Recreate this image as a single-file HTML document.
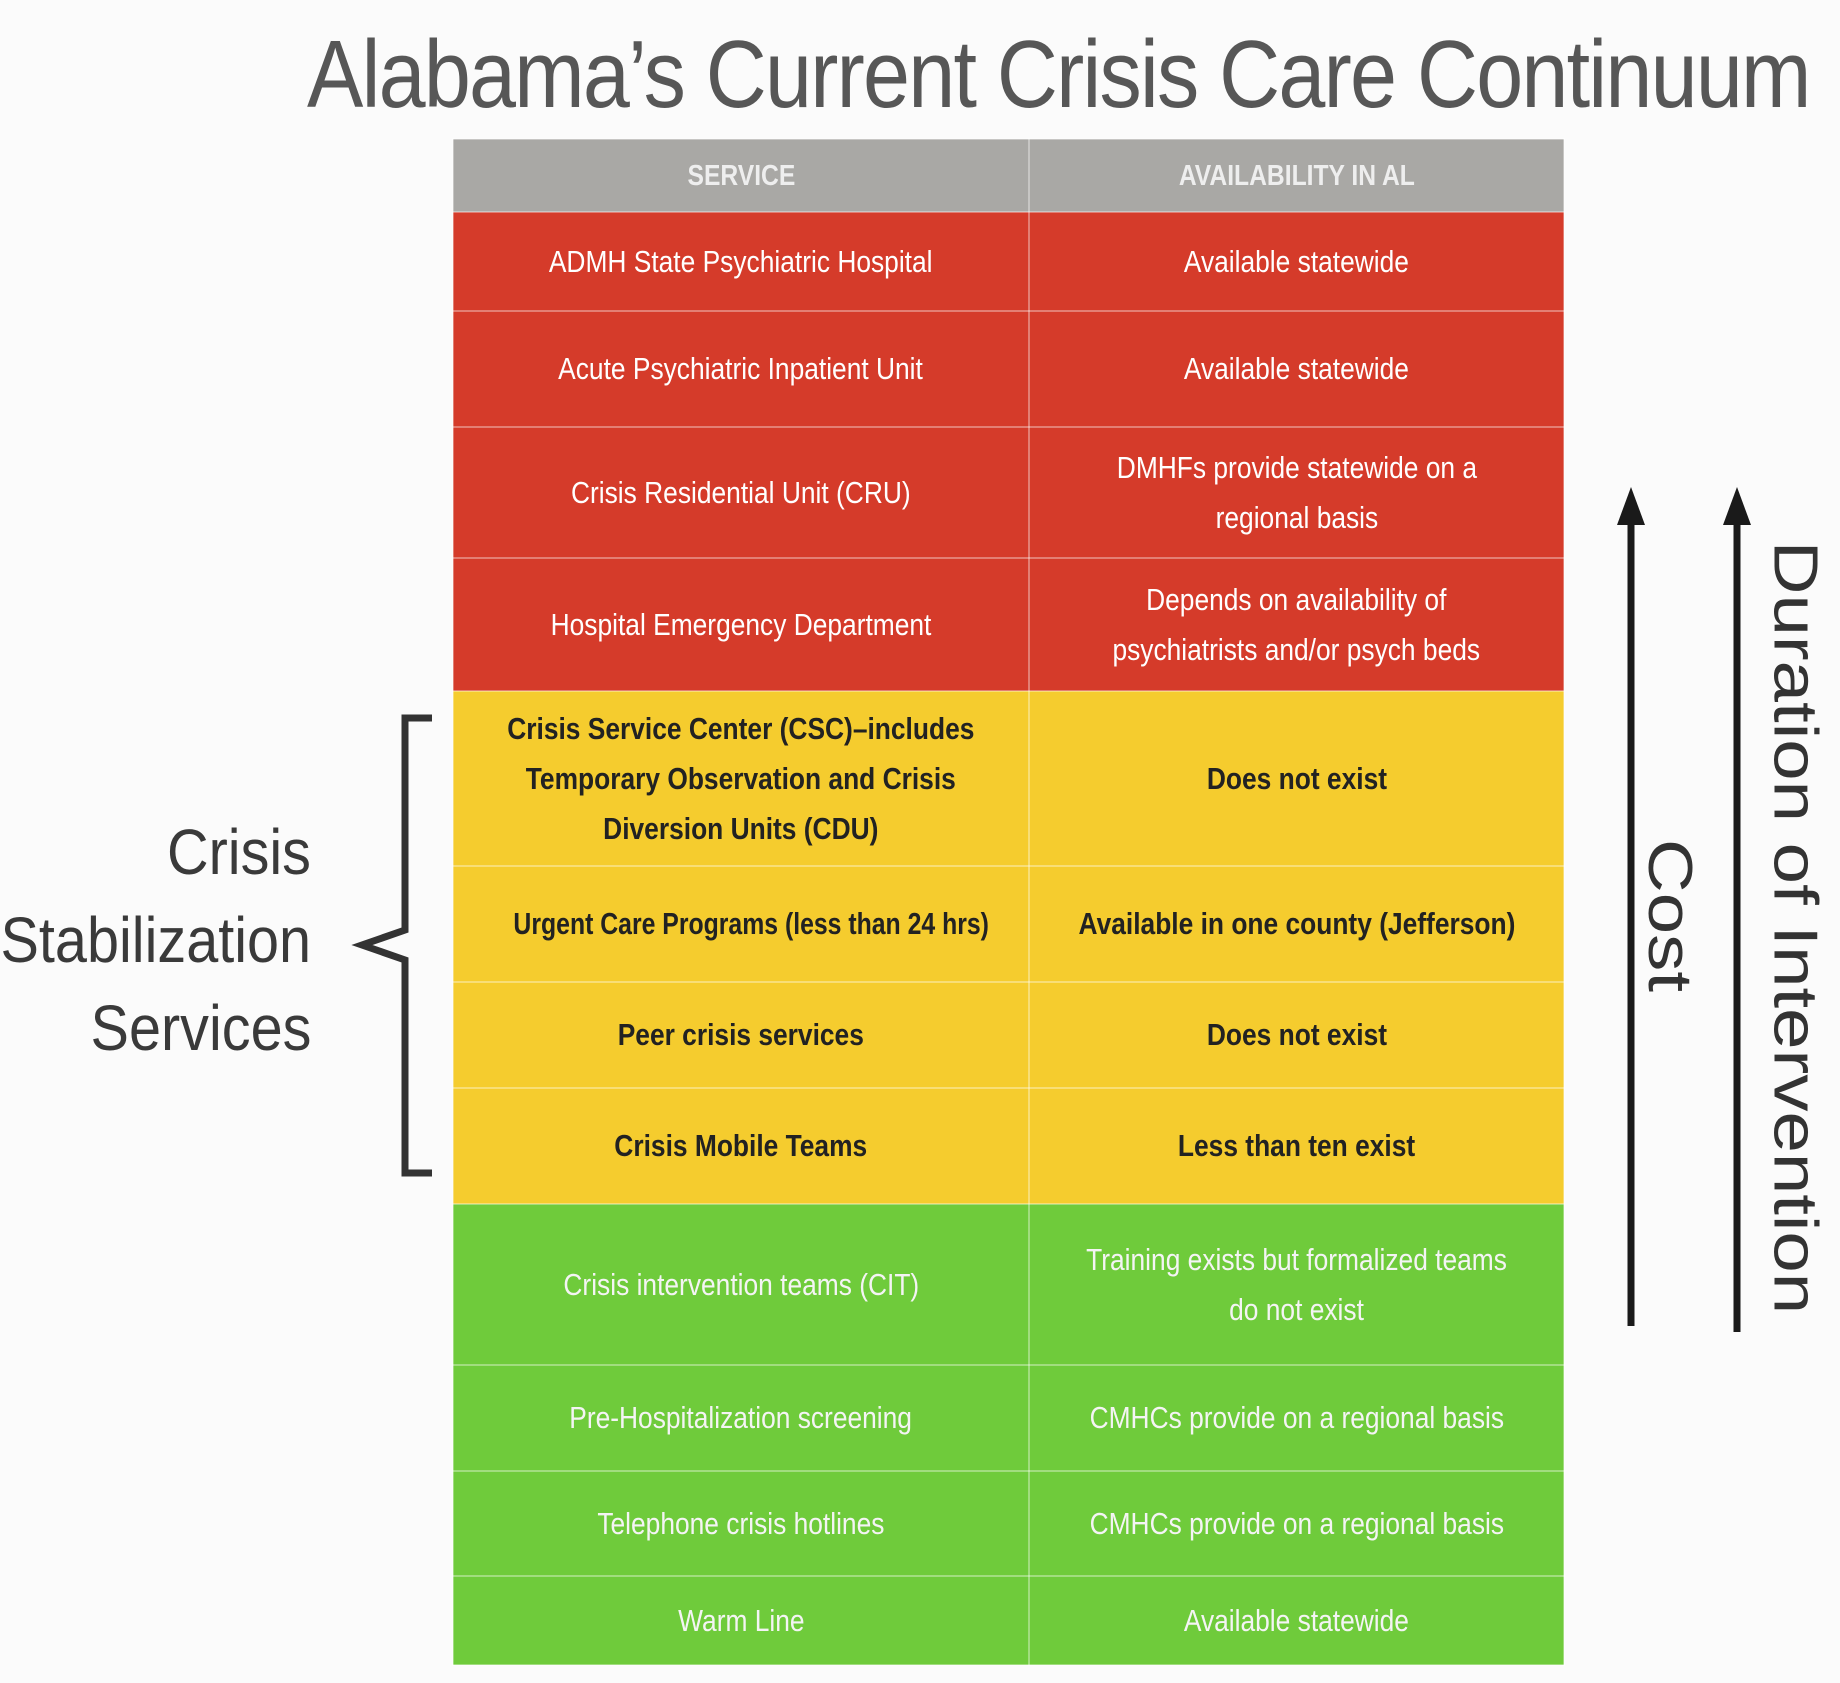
<!DOCTYPE html>
<html><head><meta charset="utf-8"><style>
body{margin:0;width:1840px;height:1683px;background:#fbfbfb;position:relative;overflow:hidden;font-family:"Liberation Sans",sans-serif}
.t{position:absolute;left:307px;top:20px;white-space:nowrap;font-size:96px;color:#575757;transform:scaleX(0.88);transform-origin:left top;letter-spacing:-2px}
table{position:absolute;left:452px;top:138px;width:1111px;border-collapse:collapse;table-layout:fixed}
td{border:2px solid rgba(255,255,255,0.35);text-align:center;font-size:31px;line-height:50px;padding:0;white-space:nowrap}
td span{display:inline-block;transform:scaleX(0.85)}
.h td{background:#a9a8a5;color:#eee;height:71px;font-weight:bold;font-size:29px}
.r td{background:#d53b2a;color:#fff}
.y td{background:#f5cc2e;color:#222;font-weight:bold}
.g td{background:#6fcb3b;color:#f4f4f4}
.l{position:absolute;right:1529px;font-size:64px;color:#3a3a3a;white-space:nowrap;transform:scaleX(0.9);transform-origin:right top}
.rot{position:absolute;transform:rotate(90deg) scaleX(1.2);white-space:nowrap;color:#333;font-size:62px}
</style></head><body>
<div class="t">Alabama’s Current Crisis Care Continuum</div>
<table>
<colgroup><col style="width:576px"><col style="width:535px"></colgroup>
<tr class="h"><td><span>SERVICE</span></td><td><span>AVAILABILITY IN AL</span></td></tr>
<tr class="r" style="height:99px"><td><span>ADMH State Psychiatric Hospital</span></td><td><span>Available statewide</span></td></tr>
<tr class="r" style="height:116px"><td><span>Acute Psychiatric Inpatient Unit</span></td><td><span>Available statewide</span></td></tr>
<tr class="r" style="height:131px"><td><span>Crisis Residential Unit (CRU)</span></td><td><span>DMHFs provide statewide on a<br>regional basis</span></td></tr>
<tr class="r" style="height:133px"><td><span>Hospital Emergency Department</span></td><td><span>Depends on availability of<br>psychiatrists and/or psych beds</span></td></tr>
<tr class="y" style="height:175px"><td><span>Crisis Service Center (CSC)–includes<br>Temporary Observation and Crisis<br>Diversion Units (CDU)</span></td><td><span>Does not exist</span></td></tr>
<tr class="y" style="height:116px"><td><span style="transform:scaleX(0.8)">Urgent Care Programs (less than 24 hrs)</span></td><td><span>Available in one county (Jefferson)</span></td></tr>
<tr class="y" style="height:106px"><td><span>Peer crisis services</span></td><td><span>Does not exist</span></td></tr>
<tr class="y" style="height:116px"><td><span>Crisis Mobile Teams</span></td><td><span>Less than ten exist</span></td></tr>
<tr class="g" style="height:161px"><td><span>Crisis intervention teams (CIT)</span></td><td><span>Training exists but formalized teams<br>do not exist</span></td></tr>
<tr class="g" style="height:106px"><td><span>Pre-Hospitalization screening</span></td><td><span>CMHCs provide on a regional basis</span></td></tr>
<tr class="g" style="height:105px"><td><span>Telephone crisis hotlines</span></td><td><span>CMHCs provide on a regional basis</span></td></tr>
<tr class="g" style="height:89px"><td><span>Warm Line</span></td><td><span>Available statewide</span></td></tr>
</table>
<div class="l" style="top:815px">Crisis</div>
<div class="l" style="top:903px">Stabilization</div>
<div class="l" style="top:991px">Services</div>
<svg style="position:absolute;left:0;top:0" width="1840" height="1683">
<path d="M432 718 H405 V930 L362 945 L405 960 V1173 H432" fill="none" stroke="#333" stroke-width="7"/>
<line x1="1631" y1="1326" x2="1631" y2="520" stroke="#1a1a1a" stroke-width="7"/>
<polygon points="1617,525 1645,525 1631,487" fill="#1a1a1a"/>
<line x1="1737" y1="1332" x2="1737" y2="520" stroke="#1a1a1a" stroke-width="7"/>
<polygon points="1723,525 1751,525 1737,487" fill="#1a1a1a"/>
</svg>
<div class="rot" style="left:1606px;top:880px">Cost</div>
<div class="rot" style="left:1445px;top:892px;width:700px;text-align:center">Duration of Intervention</div>
</body></html>
